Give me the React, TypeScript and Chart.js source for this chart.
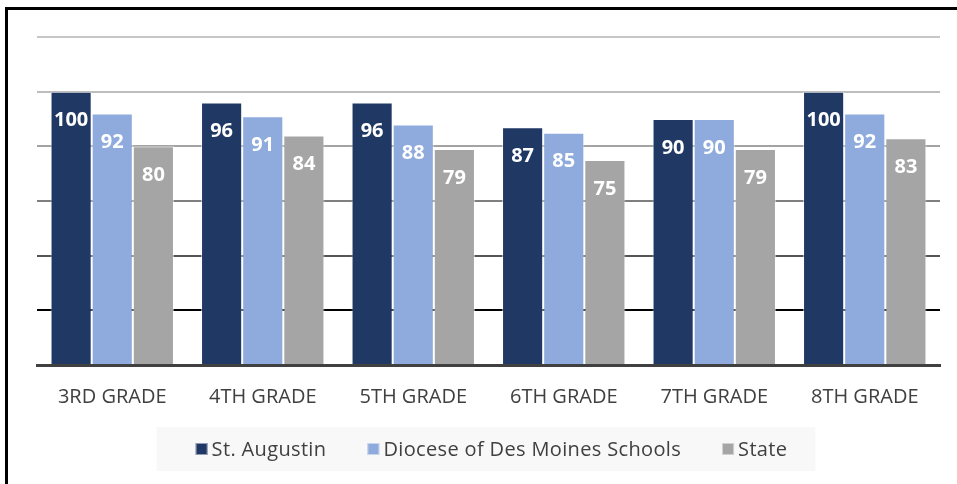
import React, { useEffect, useRef } from "react";
import { Chart, registerables } from "chart.js";

Chart.register(...registerables);

const categories = ["3RD GRADE", "4TH GRADE", "5TH GRADE", "6TH GRADE", "7TH GRADE", "8TH GRADE"];
const stAugustin = [100, 96, 96, 87, 90, 100];
const diocese = [92, 91, 88, 85, 90, 92];
const state = [80, 84, 79, 75, 79, 83];
const seriesNames = ["St. Augustin", "Diocese of Des Moines Schools", "State"];
const seriesColors = ["#203864", "#8faadc", "#a5a5a5"];
const yTicks = [0, 20, 40, 60, 80, 100, 120];
const gridColors = ["#404040", "#000000", "#555555", "#7f7f7f", "#a3a3a3", "#bdbdbd", "#c6c6c6"];

const FONT = "'Open Sans', 'DejaVu Sans', sans-serif";

const dataLabels = {
  id: "dataLabels",
  afterDatasetsDraw(chart: any) {
    const ctx = chart.ctx;
    ctx.save();
    ctx.fillStyle = "#ffffff";
    ctx.font = `bold 20px ${FONT}`;
    ctx.textAlign = "center";
    ctx.textBaseline = "middle";
    chart.data.datasets.forEach((ds: any, i: number) => {
      const meta = chart.getDatasetMeta(i);
      meta.data.forEach((el: any, j: number) => {
        ctx.fillText(String(ds.data[j]), el.x, el.y + 29);
      });
    });
    ctx.restore();
  },
};

// custom legend with light background, drawn under the axis labels
const customLegend = {
  id: "customLegend",
  afterDraw(chart: any) {
    const ctx = chart.ctx;
    const area = chart.chartArea;
    ctx.save();
    ctx.font = `20px ${FONT}`;
    try { (ctx as any).letterSpacing = "0.35px"; } catch (e) {}
    const box = 12;
    const gapText = 4;
    const gapItem = 41;
    const widths = seriesNames.map((n) => box + gapText + ctx.measureText(n).width);
    const total = widths.reduce((a, b) => a + b, 0) + gapItem * (seriesNames.length - 1);
    const cx = (area.left + area.right) / 2 + 3;
    const cy = chart.height - 35;
    let x = cx - total / 2;
    ctx.fillStyle = "#f8f8f8";
    ctx.fillRect(x - 39, cy - 22, total + 39 + 28, 44);
    ctx.textBaseline = "middle";
    ctx.textAlign = "left";
    seriesNames.forEach((n, i) => {
      ctx.fillStyle = seriesColors[i];
      ctx.fillRect(x, cy - box / 2, box, box);
      ctx.strokeStyle = "rgba(255,255,255,0.5)";
      ctx.lineWidth = 1;
      ctx.strokeRect(x + 0.5, cy - box / 2 + 0.5, box - 1, box - 1);
      ctx.fillStyle = "#404040";
      ctx.fillText(n, x + box + gapText, cy + 1);
      x += widths[i] + gapItem;
    });
    ctx.restore();
  },
};

export default function App() {
  const ref = useRef<HTMLCanvasElement | null>(null);
  useEffect(() => {
    if (!ref.current) return;
    const chart = new Chart(ref.current, {
      type: "bar",
      data: {
        labels: categories,
        datasets: [stAugustin, diocese, state].map((d, i) => ({
          label: seriesNames[i],
          data: d,
          backgroundColor: seriesColors[i],
          borderColor: "rgba(255,255,255,0.55)",
          borderWidth: 1,
          barPercentage: 1,
          categoryPercentage: 0.82,
        })),
      },
      options: {
        animation: false,
        responsive: false,
        maintainAspectRatio: false,
        layout: { padding: { left: 37, right: 17, top: 37, bottom: 63 } },
        plugins: {
          tooltip: { enabled: false },
          legend: { display: false },
        },
        scales: {
          x: {
            grid: { display: false },
            border: { display: true, color: "#404040", width: 3 },
            ticks: { color: "#404040", font: { family: FONT, size: 20 }, padding: 12 },
          },
          y: {
            min: 0,
            max: 120,
            afterBuildTicks: (axis: any) => {
              axis.ticks = yTicks.map((v) => ({ value: v }));
            },
            ticks: { display: false },
            border: { display: false },
            grid: {
              drawTicks: false,
              lineWidth: 2,
              color: (c: any) => {
                const idx = yTicks.indexOf(c.tick ? c.tick.value : -1);
                return idx >= 0 ? gridColors[idx] : "#c0c0c0";
              },
            },
          },
        },
      },
      plugins: [dataLabels, customLegend],
    });
    return () => chart.destroy();
  }, []);
  return (
    <div style={{ position: "fixed", left: 0, top: 0, width: 957, height: 484, overflow: "hidden", background: "#fff" }}>
      <canvas ref={ref} width={957} height={484} style={{ position: "absolute", left: 0, top: 0, width: 957, height: 484 }} />
      <div style={{ position: "absolute", left: 5, top: 7, width: 1200, height: 1200, border: "3px solid #000", pointerEvents: "none" }} />
    </div>
  );
}
